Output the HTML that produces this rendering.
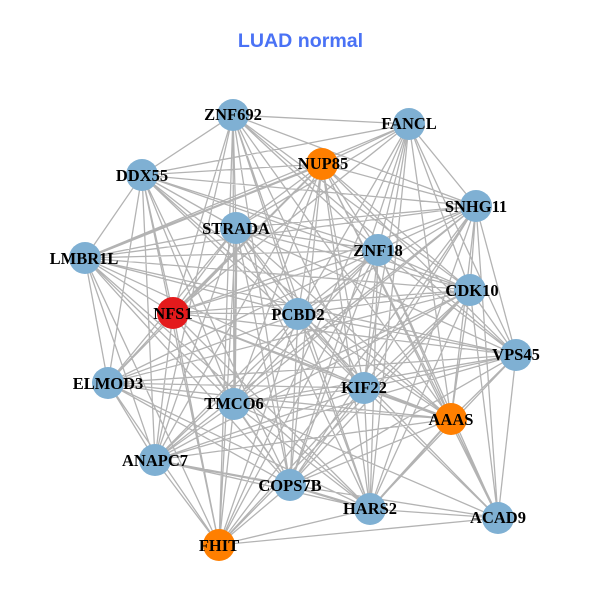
<!DOCTYPE html>
<html><head><meta charset="utf-8"><style>
html,body{margin:0;padding:0;background:#fff}
svg{display:block}
.l{font-family:"Liberation Serif",serif;font-weight:bold;font-size:16.5px;fill:#000;text-anchor:middle}
</style></head><body>
<svg width="600" height="600" viewBox="0 0 600 600" xmlns="http://www.w3.org/2000/svg">
<rect width="600" height="600" fill="#fff"/>
<text x="300.5" y="47" text-anchor="middle" style="font-family:'Liberation Sans',sans-serif;font-weight:bold;font-size:19.6px" fill="#4a72f5">LUAD normal</text>
<path fill="none" stroke="#b3b3b3" stroke-width="1.3" d="
M233 115L409 124M233 115L142 175M233 115L476 206M233 115L236 228M233 115L378 250M233 115L470 290M233 115L173 313M233 115L298 314M233 115L516 355M233 115L364 388M233 115L234 404M233 115L451 419M233 115L155 460M233 115L290 485M233 115L370 509M233 115L219 545
M409 124L322 164M409 124L142 175M409 124L476 206M409 124L236 228M409 124L378 250M409 124L85 258M409 124L470 290M409 124L173 313M409 124L298 314M409 124L516 355M409 124L364 388M409 124L451 419M409 124L290 485M409 124L370 509M409 124L219 545
M322 164L142 175M322 164L476 206M322 164L236 228M322 164L378 250M322 164L85 258M322 164L173 313M322 164L298 314M322 164L470 290M322 164L516 355M322 164L108 383M322 164L364 388M322 164L234 404M322 164L451 419M322 164L155 460M322 164L290 485M322 164L370 509M322 164L498 518
M142 175L476 206M142 175L236 228M142 175L378 250M142 175L85 258M142 175L470 290M142 175L173 313M142 175L298 314M142 175L108 383M142 175L364 388M142 175L234 404M142 175L451 419M142 175L155 460M142 175L290 485M142 175L219 545
M476 206L236 228M476 206L378 250M476 206L85 258M476 206L470 290M476 206L173 313M476 206L298 314M476 206L516 355M476 206L364 388M476 206L234 404M476 206L451 419M476 206L155 460M476 206L290 485M476 206L370 509M476 206L498 518M476 206L219 545
M236 228L378 250M236 228L85 258M236 228L470 290M236 228L173 313M236 228L298 314M236 228L516 355M236 228L108 383M236 228L364 388M236 228L234 404M236 228L451 419M236 228L155 460M236 228L290 485M236 228L370 509M236 228L219 545
M378 250L85 258M378 250L470 290M378 250L173 313M378 250L298 314M378 250L516 355M378 250L108 383M378 250L364 388M378 250L234 404M378 250L451 419M378 250L155 460M378 250L290 485M378 250L370 509M378 250L498 518M378 250L219 545
M85 258L470 290M85 258L173 313M85 258L298 314M85 258L516 355M85 258L108 383M85 258L364 388M85 258L234 404M85 258L155 460M85 258L290 485M85 258L370 509M85 258L219 545
M470 290L173 313M470 290L298 314M470 290L516 355M470 290L108 383M470 290L364 388M470 290L234 404M470 290L451 419M470 290L155 460M470 290L290 485M470 290L370 509M470 290L498 518M470 290L219 545
M173 313L298 314M173 313L516 355M173 313L108 383M173 313L364 388M173 313L234 404M173 313L451 419M173 313L290 485M173 313L370 509M173 313L219 545M173 313L155 460
M298 314L516 355M298 314L108 383M298 314L364 388M298 314L234 404M298 314L451 419M298 314L155 460M298 314L290 485M298 314L370 509M298 314L498 518M298 314L219 545
M516 355L108 383M516 355L364 388M516 355L234 404M516 355L451 419M516 355L290 485M516 355L370 509M516 355L498 518M516 355L155 460
M108 383L364 388M108 383L234 404M108 383L451 419M108 383L155 460M108 383L290 485M108 383L370 509M108 383L219 545
M364 388L234 404M364 388L451 419M364 388L155 460M364 388L290 485M364 388L370 509M364 388L498 518M364 388L219 545
M234 404L451 419M234 404L155 460M234 404L290 485M234 404L370 509M234 404L498 518M234 404L219 545
M451 419L155 460M451 419L290 485M451 419L370 509M451 419L498 518
M155 460L290 485M155 460L370 509M155 460L219 545
M290 485L370 509M290 485L498 518M290 485L219 545
M370 509L498 518M370 509L219 545
M498 518L219 545
M237 228L235 404M364 389L451 420M451 419L499 518M155 461L290 486M290 486L370 510M85 259L322 165M451 420L371 509M173 314L322 165"/>
<g fill="#7fb0d3">
<circle cx="233" cy="115" r="16"/><circle cx="409" cy="124" r="16"/><circle cx="142" cy="175" r="16"/><circle cx="476" cy="206" r="16"/><circle cx="236" cy="228" r="16"/><circle cx="378" cy="250" r="16"/><circle cx="85" cy="258" r="16"/><circle cx="470" cy="290" r="16"/><circle cx="298" cy="314" r="16"/><circle cx="516" cy="355" r="16"/><circle cx="108" cy="383" r="16"/><circle cx="364" cy="388" r="16"/><circle cx="234" cy="404" r="16"/><circle cx="155" cy="460" r="16"/><circle cx="290" cy="485" r="16"/><circle cx="370" cy="509" r="16"/><circle cx="498" cy="518" r="16"/>
</g>
<g fill="#ff7f00"><circle cx="322" cy="164" r="16"/><circle cx="451" cy="419" r="16"/><circle cx="219" cy="545" r="16"/></g>
<circle cx="173" cy="313" r="16" fill="#e41a1c"/>
<g>
<text class="l" x="233" y="120">ZNF692</text>
<text class="l" x="409" y="129">FANCL</text>
<text class="l" x="323" y="169">NUP85</text>
<text class="l" x="142" y="181">DDX55</text>
<text class="l" x="476" y="212">SNHG11</text>
<text class="l" x="236" y="234">STRADA</text>
<text class="l" x="378" y="256">ZNF18</text>
<text class="l" x="84" y="264">LMBR1L</text>
<text class="l" x="472" y="296">CDK10</text>
<text class="l" x="173" y="319">NFS1</text>
<text class="l" x="298" y="320">PCBD2</text>
<text class="l" x="516" y="360">VPS45</text>
<text class="l" x="108" y="389">ELMOD3</text>
<text class="l" x="364" y="393">KIF22</text>
<text class="l" x="234" y="409">TMCO6</text>
<text class="l" x="451" y="425">AAAS</text>
<text class="l" x="155" y="466">ANAPC7</text>
<text class="l" x="290" y="491">COPS7B</text>
<text class="l" x="370" y="514">HARS2</text>
<text class="l" x="498" y="523">ACAD9</text>
<text class="l" x="219" y="551">FHIT</text>
</g>
</svg>
</body></html>
